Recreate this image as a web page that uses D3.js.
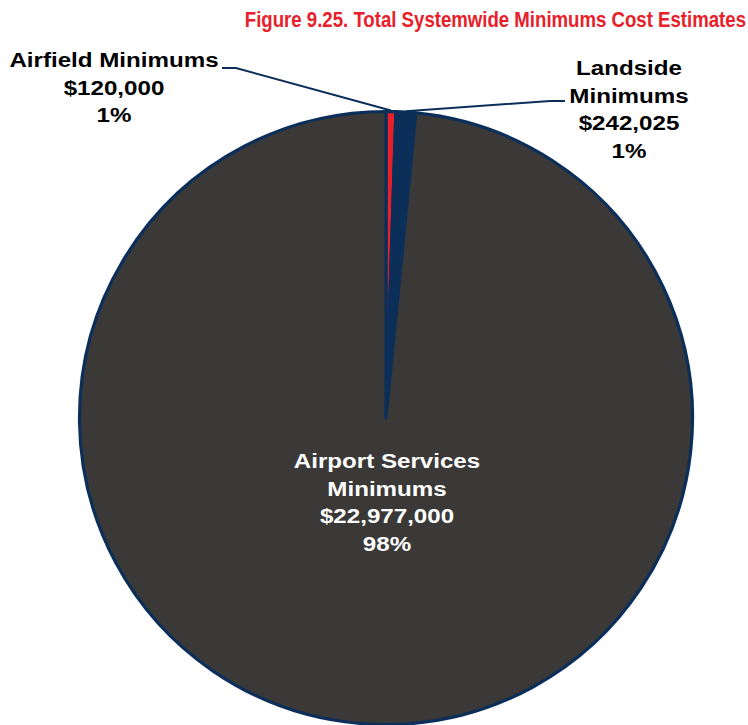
<!DOCTYPE html>
<html>
<head>
<meta charset="utf-8">
<script src="https://cdn.jsdelivr.net/npm/d3@7"></script>
<style>
  html, body { margin: 0; padding: 0; background: #ffffff; }
  svg { display: block; }
  text { font-family: "Liberation Sans", Arial, sans-serif; font-weight: bold; }
</style>
</head>
<body>
<svg id="chart" width="748" height="725"></svg>
<script>
// Cost estimates by category
const categories = ["Airfield Minimums", "Landside Minimums", "Airport Services Minimums"];
const costs = [120000, 242025, 22977000];
const percentLabels = ["1%", "1%", "98%"];
const costLabels = ["$120,000", "$242,025", "$22,977,000"];
const sliceColors = ["#e8202a", "#0c2f5a", "#3b3838"];

const svg = d3.select("#chart");
const cx = 386, cy = 418, radius = 306.5;

// Title (condensed)
svg.append("g")
  .attr("transform", "translate(746,27) scale(0.81,1)")
  .append("text")
  .attr("x", 0).attr("y", 0)
  .attr("text-anchor", "end")
  .attr("fill", "#e8202a")
  .attr("font-size", 23)
  .text("Figure 9.25. Total Systemwide Minimums Cost Estimates");

const data = categories.map((c, i) => ({ name: c, value: costs[i], color: sliceColors[i], cost: costLabels[i], pct: percentLabels[i] }));

const pie = d3.pie().value(d => d.value).sort(null);
const arcs = pie(data);
const arcGen = d3.arc().innerRadius(0).outerRadius(radius);

const g = svg.append("g").attr("transform", `translate(${cx},${cy})`);

g.selectAll("path.slice")
  .data(arcs)
  .join("path")
  .attr("class", "slice")
  .attr("d", arcGen)
  .attr("fill", d => d.data.color)
  .attr("stroke", "#0c2f5a")
  .attr("stroke-width", 3.2)
  .attr("stroke-linejoin", "round");

// Leader lines from the small slices to their labels
const outerPoint = (a, r) => [Math.sin(a) * r + cx, -Math.cos(a) * r + cy];

const a0 = (arcs[0].startAngle + arcs[0].endAngle) / 2;
const p0 = outerPoint(a0, radius + 1);
svg.append("polyline")
  .attr("points", [[222, 68], [236, 68], p0].map(p => p.join(",")).join(" "))
  .attr("fill", "none").attr("stroke", "#0c2f5a").attr("stroke-width", 2);

const a1 = (arcs[1].startAngle + arcs[1].endAngle) / 2;
const p1 = outerPoint(a1, radius + 1);
svg.append("polyline")
  .attr("points", [[565, 101], [550, 101], p1].map(p => p.join(",")).join(" "))
  .attr("fill", "none").attr("stroke", "#0c2f5a").attr("stroke-width", 2);

// Data labels (slightly widened)
function label(x, y, lines, color) {
  const t = svg.append("g")
    .attr("transform", `translate(${x},${y}) scale(1.15,1)`)
    .append("text")
    .attr("text-anchor", "middle")
    .attr("fill", color)
    .attr("font-size", 21);
  lines.forEach((ln, i) => {
    t.append("tspan").attr("x", 0).attr("y", i * 27.6).text(ln);
  });
}

label(114, 67, ["Airfield Minimums", data[0].cost, data[0].pct], "#000000");
label(629, 75, ["Landside", "Minimums", data[1].cost, data[1].pct], "#000000");
label(387, 468, ["Airport Services", "Minimums", data[2].cost, data[2].pct], "#ffffff");
</script>
</body>
</html>
